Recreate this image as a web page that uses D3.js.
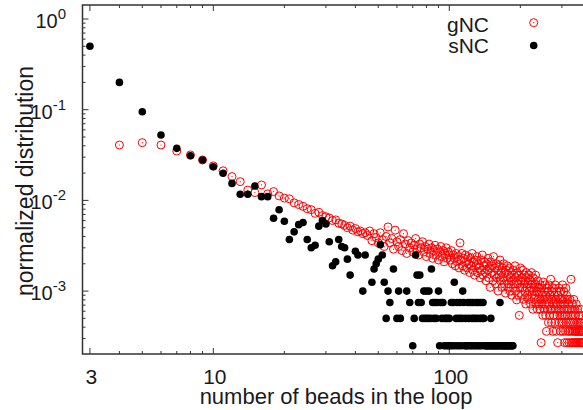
<!DOCTYPE html>
<html>
<head>
<meta charset="utf-8">
<script src="https://cdn.jsdelivr.net/npm/d3@7"></script>
<style>
  body { margin: 0; background: #fff; }
  text { font-family: "Liberation Sans", Arial, Helvetica, sans-serif; fill: #1a1a1a; }
</style>
</head>
<body>
<svg id="chart" width="583" height="410"></svg>
<script>
// gNC: one value per loop length, starting at 4 beads
var gncFirst = 4;
var gncValues = [
  .0408, .0433, .0408, .0350, .0317, .0279, .0240, .0212, .0183, .0161,
  .0130, .0122, .0148, .0118, .0125, .0112, .0106,
  .0104, .0094, .0090, .0086, .0081, .0079, .0072, .0074, .0068, .0066,
  .0064, .0060, .0061, .0056, .0055, .0053, .0050, .0052, .0047, .0049,
  .0045, .0046, .0043, .0044, .0041, .0046, .0036, .0043, .0039, .0034,
  .0044, .0037, .0031, .0040, .0051, .0034, .0038, .0029, .0047, .0035,
  .0031, .0037, .0028, .0043, .0033, .0026, .0036, .0030, .0034, .0027,
  .0032, .0038, .0029, .0025, .0033, .0030, .0035, .0027, .0031, .0024,
  .0029, .0033, .0026, .0030, .0023, .0028, .0032, .0025, .0029, .0022,
  .0027, .0031, .0024, .0028, .0021, .0026, .0030, .0023, .0027, .0025,
  .0022, .0028, .0020, .0025, .0023, .0019, .0026, .0021, .0024, .0018,
  .0034, .0022, .0026, .0019, .0023, .0017, .0025, .0021, .0018, .0024,
  .0020, .0016, .0023, .0019, .0026, .0017, .0021, .0015, .0022, .0019,
  .0024, .0016, .0020, .0018, .0014, .0022, .0017, .0025, .0015, .0019,
  .0021, .0016, .0013, .0020, .0017, .0023, .0014, .0018, .0011, .0021,
  .0016, .0019, .0013, .0024, .0015, .0018, .0012, .0020, .0014, .0017,
  .0010, .0019, .0015, .0022, .0013, .0016, .0011, .0018, .0014, .0020,
  .0012, .0016, .00095, .0017, .0013, .0019, .0011, .0015, .0012, .0018,
  .0010, .0014, .0016, .0009, .0013, .0017, .0011, .0015, .0012, .0019,
  .0010, .0014, .0008, .0016, .0012, .0009, .0015, .00054, .0011, .0018,
  .0013, .0009, .0014, .0011, .0017, .00081, .0012, .0015, .0010, .0013,
  .00072, .0016, .0011, .0009, .0014, .0012, .00081, .0015, .0010, .0013,
  .00072, .0011, .0016, .00090, .0012, .00063, .0014, .0010, .00081, .0012,
  .00090, .0015, .00072, .0011, .00099, .00063, .0013, .00081, .0011, .00072,
  .00099, .00063, .00117, .00081, .00027, .00108, .00072, .00090, .00054, .00126,
  .00081, .00063, .00099, .00072, .00117, .00054, .00090, .00036, .00081, .00108,
  .00063, .00099, .00045, .00072, .00117, .00054, .00090, .00063, .00135, .00081,
  .00045, .00099, .00063, .00081, .00036, .00108, .00054, .00072, .00090, .00045,
  .00117, .00063, .00081, .00036, .00099, .00054, .00072, .00027, .00090, .00063,
  .00108, .00045, .00081, .00054, .00072, .00036, .00099, .00063, .00045, .00081,
  .00054, .00117, .00036, .00072, .00045, .00099, .00063, .00027, .00081, .00054,
  .00036, .00108, .00045, .00090, .00027, .00063, .00054, .00081, .00036, .00045,
  .00072, .00027, .00063, .00036, .00081, .00045, .00054, .00135, .00027, .00063,
  .00036, .00072, .00045, .00027, .00054, .00036, .00081, .00027, .00045, .00063,
  .00036, .00027, .00054, .00036, .00072, .00027, .00045, .00036, .00027, .00063,
  .00036, .00045, .00027, .00054, .00036, .00027, .00045, .00036, .00063, .00027,
  .00036, .00045, .00027, .00054, .00036, .00027, .00045, .00027, .00036, .00027
];

// sNC: one value per loop length from 3 beads; null = no loops of that size
var sncFirst = 3;
var sncValues = [
  .5, .2, .095, .0526, .0375, .0311, .0279,
  .0235, .0199, .0154, .0117, .0117, .0144, .011, .011, .00635, .0079,
  .0059, .0037, .0045, .0054, .0057, .0037, .0030, .0032, .0052, .0060,
  .0055, .0035, .0019, .0021, .0037, .0031, .0030, .00225, .0015, null,
  .00275, .0025, null, .001, .0025, null, null, .00125, .00175, .002,
  .00225, .00325, .0025, .00125, .0005, .001, .00075, null, .00175, null,
  .0005, .001, .0005, null, null, null, .001, null, .00075, null,
  .00025, .0005, .0025, .0015, .00075, .0015, .00075, .0005, .001, .0005,
  .001, .0005, .001, .0005, .00175, .00075, .0005, .00075, .0005, .00075,
  .001, .00025, .00075, .0005, .00075, .00025, .0005, .00025, .0005, .00025,
  .0005, .00025, .00075, .00025, .00075, .00125, .00025, .0005, .00075, .00025,
  .0005, .00075, .00025, .0005, .001, .00075, .00025, .0005, .00025, .00025,
  .00075, .0005, .00025, .00075, .00025, .0005, .00075, .00025, .0005, .00025,
  .00075, .0005, .00025, .00075, .00025, .0005, .00075, .00025, .0005, .00075,
  .0005, .00025, null, .00025, .00025, null, .00025, .00025, null, .00025,
  .0005, .00025, .00025, null, .00025, .00025, null, .00025, .00025, null,
  .00025, .00025, null, .00025, .00075, .00025, null, .00025, .00025, null,
  .00025, .00025, null, .00025, .00025, null, .00025, null, .00025, .00025,
  null, .00025, null, .00025, null, .00025, .00025
];

var xMajor = [3, 10, 100];
var xMinor = [4, 5, 6, 7, 8, 9, 20, 30, 40, 50, 60, 70, 80, 90, 200, 300];
var yMajor = [1, 0.1, 0.01, 0.001];
var yExp = ["0", "-1", "-2", "-3"];
var yMinor = [0.0003, 0.0004, 0.0005, 0.0006, 0.0007, 0.0008, 0.0009,
  0.002, 0.003, 0.004, 0.005, 0.006, 0.007, 0.008, 0.009,
  0.02, 0.03, 0.04, 0.05, 0.06, 0.07, 0.08, 0.09,
  0.2, 0.3, 0.4, 0.5, 0.6, 0.7, 0.8, 0.9];

var mLeft = 82.5, mRight = 590, mTop = 5, mBottom = 354;

var x = d3.scaleLog().domain([2.79, 394.7]).range([mLeft, mRight]);
var y = d3.scaleLog().domain([2.025e-4, 1.427]).range([mBottom, mTop]);

var gnc = gncValues.map(function(v, i) { return { n: gncFirst + i, v: v }; })
  .filter(function(d) { return d.v != null; });
var snc = sncValues.map(function(v, i) { return { n: sncFirst + i, v: v }; })
  .filter(function(d) { return d.v != null; });

var svg = d3.select("#chart");

svg.append("defs").append("clipPath").attr("id", "plot")
  .append("rect").attr("x", mLeft).attr("y", mTop)
  .attr("width", mRight - mLeft).attr("height", mBottom - mTop);

// ticks, pointing inward, mirrored top/bottom
var tickG = svg.append("g").attr("stroke", "#333").attr("stroke-width", 1);
function xTick(list, len) {
  list.forEach(function(t) {
    var px = x(t);
    tickG.append("line").attr("x1", px).attr("x2", px).attr("y1", mBottom).attr("y2", mBottom - len);
    tickG.append("line").attr("x1", px).attr("x2", px).attr("y1", mTop).attr("y2", mTop + len);
  });
}
function yTick(list, len) {
  list.forEach(function(t) {
    var py = y(t);
    tickG.append("line").attr("x1", mLeft).attr("x2", mLeft + len).attr("y1", py).attr("y2", py);
  });
}
xTick(xMajor, 6);
xTick(xMinor, 3);
yTick(yMajor, 6);
yTick(yMinor, 3);

// frame
svg.append("rect").attr("x", mLeft).attr("y", mTop)
  .attr("width", mRight - mLeft).attr("height", mBottom - mTop)
  .attr("fill", "none").attr("stroke", "#333").attr("stroke-width", 1.5);

// tick labels
svg.append("g").selectAll("text").data(xMajor).enter().append("text")
  .attr("x", function(d) { return x(d) + 1.5; })
  .attr("y", 384)
  .attr("text-anchor", "middle")
  .attr("font-size", 21)
  .text(function(d) { return d; });

var yl = svg.append("g").selectAll("text").data(yMajor).enter().append("text")
  .attr("x", 66)
  .attr("y", function(d) { return y(d) + 9; })
  .attr("text-anchor", "end")
  .attr("font-size", 20);
yl.append("tspan").text("10");
yl.append("tspan").attr("dy", -9).attr("font-size", 15)
  .text(function(d, i) { return yExp[i]; });

// axis titles
svg.append("text").attr("x", 336).attr("y", 404)
  .attr("text-anchor", "middle").attr("font-size", 22)
  .text("number of beads in the loop");
svg.append("text").attr("transform", "translate(33,181) rotate(-90)")
  .attr("text-anchor", "middle").attr("font-size", 23)
  .text("normalized distribution");

// data
var plot = svg.append("g").attr("clip-path", "url(#plot)");

var g1 = plot.append("g").selectAll("g").data(gnc).enter().append("g")
  .attr("transform", function(d) { return "translate(" + x(d.n) + "," + y(d.v) + ")"; });
g1.append("circle").attr("r", 4).attr("fill", "none").attr("stroke", "#f00").attr("stroke-width", 1);
g1.append("circle").attr("r", 0.6).attr("fill", "#f00");

plot.append("g").selectAll("circle").data(snc).enter().append("circle")
  .attr("cx", function(d) { return x(d.n); })
  .attr("cy", function(d) { return y(d.v); })
  .attr("r", 3.8).attr("fill", "#000");

// legend
var leg = svg.append("g");
leg.append("text").attr("x", 489).attr("y", 31.5).attr("text-anchor", "end")
  .attr("font-size", 21).text("gNC");
leg.append("text").attr("x", 489).attr("y", 52.5).attr("text-anchor", "end")
  .attr("font-size", 21).text("sNC");
leg.append("circle").attr("cx", 533.7).attr("cy", 22.7).attr("r", 4)
  .attr("fill", "none").attr("stroke", "#f00").attr("stroke-width", 1);
leg.append("circle").attr("cx", 533.7).attr("cy", 22.7).attr("r", 0.6).attr("fill", "#f00");
leg.append("circle").attr("cx", 533.7).attr("cy", 45.5).attr("r", 3.8).attr("fill", "#000");
</script>
</body>
</html>
